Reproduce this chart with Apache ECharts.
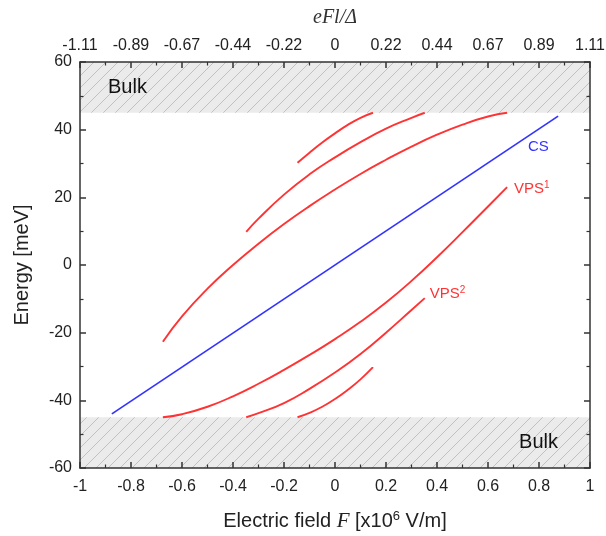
<!DOCTYPE html>
<html>
<head>
<meta charset="utf-8">
<script src="https://cdn.jsdelivr.net/npm/echarts@6/dist/echarts.min.js"></script>
<style>
  html, body { margin: 0; padding: 0; background: #fff; }
  #chart { width: 606px; height: 536px; }
</style>
</head>
<body>
<div id="chart"></div>
<script>
// Electric field F (x10^6 V/m) against level energy (meV)
const fieldTicks = [-1, -0.8, -0.6, -0.4, -0.2, 0, 0.2, 0.4, 0.6, 0.8, 1];
const reducedFieldLabels = ['-1.11', '-0.89', '-0.67', '-0.44', '-0.22', '0', '0.22', '0.44', '0.67', '0.89', '1.11'];
const energyTicks = [-60, -40, -20, 0, 20, 40, 60];

// Bulk continuum bands (meV)
const bulkBands = [[45, 60], [-60, -45]];

// CS level
const csLevel = [[-0.875, -44], [0.875, 44]];

// Upper VPS branches
const vpsUpper1 = [[-0.675, -22.7], [-0.6, -15.2], [-0.5, -7.0], [-0.4, 0.0], [-0.3, 6.3], [-0.2, 12.1],
  [-0.1, 17.4], [0, 22.3], [0.1, 26.9], [0.2, 31.1], [0.3, 35.0], [0.4, 38.5], [0.5, 41.5], [0.6, 43.9], [0.675, 45.0]];
const vpsUpper2 = [[-0.348, 9.8], [-0.3, 13.7], [-0.2, 20.8], [-0.1, 26.8], [0, 31.8], [0.1, 36.3],
  [0.2, 40.3], [0.3, 43.5], [0.352, 45.0]];
const vpsUpper3 = [[-0.147, 30.2], [-0.1, 33.2], [-0.05, 36.2], [0, 38.9], [0.05, 41.4], [0.1, 43.5], [0.149, 45.0]];

// Lower VPS branches
const vpsLower1 = [[-0.675, -45.0], [-0.6, -44.1], [-0.5, -41.9], [-0.4, -38.8], [-0.3, -35.1], [-0.2, -31.0],
  [-0.1, -26.6], [0, -21.9], [0.1, -16.8], [0.2, -11.1], [0.3, -4.7], [0.4, 2.3], [0.5, 9.7], [0.6, 17.3], [0.675, 23.0]];
const vpsLower2 = [[-0.348, -45.0], [-0.3, -43.8], [-0.2, -40.8], [-0.1, -36.6], [0, -31.8], [0.1, -26.3],
  [0.2, -20.0], [0.3, -13.3], [0.352, -9.8]];
const vpsLower3 = [[-0.147, -45.0], [-0.1, -43.7], [-0.05, -41.9], [0, -39.6], [0.05, -36.9], [0.1, -33.8], [0.149, -30.2]];

// Curve annotations: [F, E] of the text's left-middle point
const annotations = [
  { text: '{a|CS}', at: [0.757, 34.9], color: '#3333ff' },
  { text: '{a|VPS}{s|1}', at: [0.702, 22.5], color: '#ff3333' },
  { text: '{a|VPS}{s|2}', at: [0.372, -8.6], color: '#ff3333' }
];

const SANS = '"Liberation Sans", Arial, sans-serif';
const SERIF = '"Liberation Serif", "Times New Roman", serif';
const RED = '#ff3333';
const BLUE = '#3333ff';
const AXIS = '#333333';

function hatchPattern() {
  const c = document.createElement('canvas');
  const s = 12;
  c.width = s; c.height = s;
  const g = c.getContext('2d');
  g.fillStyle = '#ebebeb';
  g.fillRect(0, 0, s, s);
  g.strokeStyle = '#bcbcbc';
  g.lineWidth = 0.9;
  g.beginPath();
  g.moveTo(0, s); g.lineTo(s, 0);
  g.moveTo(-2, 2); g.lineTo(2, -2);
  g.moveTo(s - 2, s + 2); g.lineTo(s + 2, s - 2);
  g.stroke();
  return c;
}

const chart = echarts.init(document.getElementById('chart'), null, { renderer: 'canvas' });

function baseAxis() {
  return {
    axisLine: { show: true, onZero: false, lineStyle: { color: AXIS, width: 1.5 } },
    axisTick: { show: true, inside: true, length: 6, lineStyle: { color: AXIS, width: 1.5 } },
    minorTick: { show: true, splitNumber: 2, length: 3.5, lineStyle: { color: AXIS, width: 1.2 } },
    splitLine: { show: false },
    minorSplitLine: { show: false },
    nameMoveOverlap: false
  };
}

function redLine(data) {
  return {
    type: 'line', data: data, smooth: true, symbol: 'none', showSymbol: false,
    lineStyle: { color: RED, width: 1.9 }, silent: true, z: 3
  };
}

const xStep = fieldTicks[1] - fieldTicks[0];
const yStep = energyTicks[1] - energyTicks[0];

chart.setOption({
  animation: false,
  backgroundColor: '#ffffff',
  grid: {
    left: 80, right: 16, top: 62, bottom: 68,
    outerBoundsMode: 'none', containLabel: false
  },
  xAxis: [
    Object.assign(baseAxis(), {
      type: 'value', position: 'bottom', z: 6,
      min: fieldTicks[0], max: fieldTicks[fieldTicks.length - 1], interval: xStep,
      axisLabel: { color: '#222', fontFamily: SANS, fontSize: 16, margin: 11,
        formatter: (v, i) => String(fieldTicks[i] !== undefined ? fieldTicks[i] : v) },
      name: '{t|Electric field }{i|F}{t| [x10}{s|6}{t| V/m]}',
      nameLocation: 'middle', nameGap: 42,
      nameTextStyle: {
        rich: {
          t: { fontFamily: SANS, fontSize: 20, color: '#222' },
          i: { fontFamily: SERIF, fontStyle: 'italic', fontSize: 21, color: '#222' },
          s: { fontFamily: SANS, fontSize: 13, color: '#222', padding: [0, 0, 10, 0] }
        }
      }
    }),
    Object.assign(baseAxis(), {
      type: 'value', position: 'top', z: 6,
      min: fieldTicks[0], max: fieldTicks[fieldTicks.length - 1], interval: xStep,
      axisLabel: { color: '#222', fontFamily: SANS, fontSize: 16, margin: 8,
        formatter: (v, i) => reducedFieldLabels[i] },
      name: 'eFl/Δ', nameLocation: 'middle', nameGap: 34,
      nameTextStyle: { fontFamily: SERIF, fontStyle: 'italic', fontSize: 20, color: '#333' }
    })
  ],
  yAxis: [
    Object.assign(baseAxis(), {
      type: 'value', position: 'left', z: 6,
      min: energyTicks[0], max: energyTicks[energyTicks.length - 1], interval: yStep,
      axisLabel: { color: '#222', fontFamily: SANS, fontSize: 16, margin: 8 },
      name: 'Energy [meV]', nameLocation: 'middle', nameGap: 48, nameRotate: 90,
      nameTextStyle: { fontFamily: SANS, fontSize: 20, color: '#222' }
    }),
    Object.assign(baseAxis(), {
      type: 'value', position: 'right', z: 6,
      min: energyTicks[0], max: energyTicks[energyTicks.length - 1], interval: yStep,
      axisLabel: { show: false }
    })
  ],
  series: [
    {
      type: 'line', data: csLevel, symbol: 'none', showSymbol: false, silent: true, z: 3,
      lineStyle: { color: BLUE, width: 1.7 },
      markArea: {
        silent: true,
        itemStyle: { color: { image: hatchPattern(), repeat: 'repeat' } },
        label: { show: true, color: '#111', fontFamily: SANS, fontSize: 20 },
        data: [
          [{ yAxis: bulkBands[0][0], name: 'Bulk', label: { position: 'insideLeft', distance: 28 } }, { yAxis: bulkBands[0][1] }],
          [{ yAxis: bulkBands[1][0], name: 'Bulk', label: { position: 'insideRight', distance: 32 } }, { yAxis: bulkBands[1][1] }]
        ]
      }
    },
    redLine(vpsUpper1), redLine(vpsUpper2), redLine(vpsUpper3),
    redLine(vpsLower1), redLine(vpsLower2), redLine(vpsLower3)
  ]
});

function placeAnnotations() {
  chart.setOption({
    graphic: annotations.map(a => {
      const p = chart.convertToPixel({ gridIndex: 0 }, a.at);
      return {
        type: 'text', x: p[0], y: p[1], z: 10, silent: true,
        style: {
          text: a.text, verticalAlign: 'middle', align: 'left',
          rich: {
            a: { fontFamily: SANS, fontSize: 15, fill: a.color },
            s: { fontFamily: SANS, fontSize: 10, fill: a.color, padding: [0, 0, 8, 0] }
          }
        }
      };
    })
  });
}
placeAnnotations();
</script>
</body>
</html>
